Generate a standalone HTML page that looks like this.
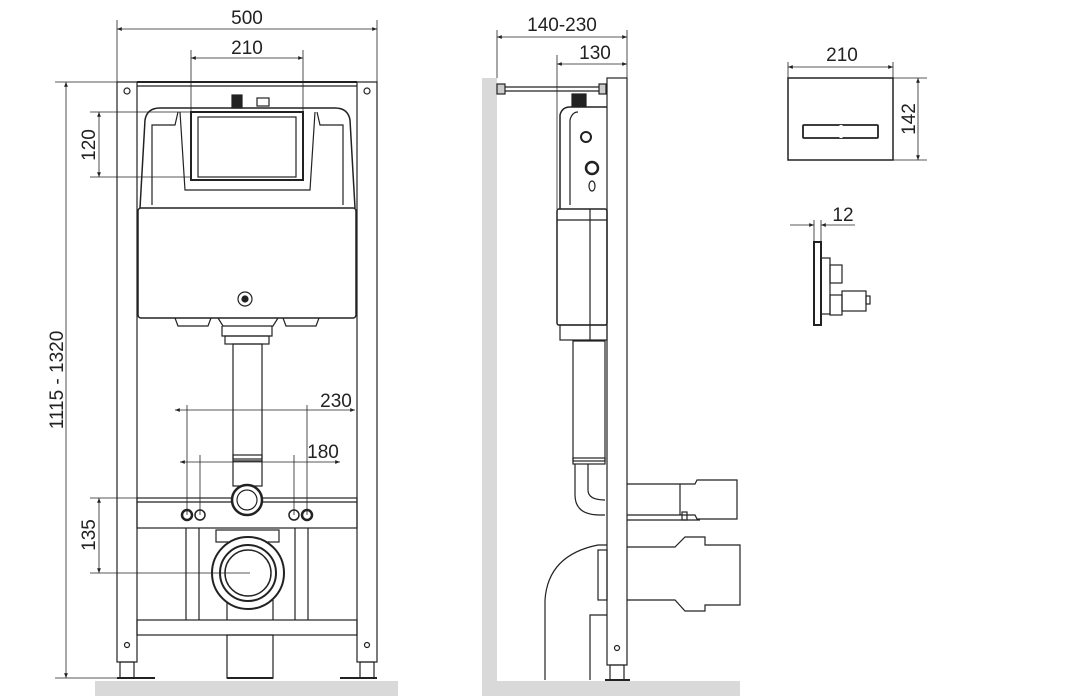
<!DOCTYPE html>
<html><head><meta charset="utf-8"><style>
html,body{margin:0;padding:0;background:#fff;}
svg{display:block;font-family:"Liberation Sans",sans-serif;}
</style></head><body>
<svg width="1079" height="697" viewBox="0 0 1079 697" xmlns="http://www.w3.org/2000/svg">
<defs>
<marker id="a" viewBox="0 0 10 10" refX="10" refY="5" markerWidth="8" markerHeight="6" orient="auto-start-reverse"><path d="M0,1 L10,5 L0,9 z" fill="#222"/></marker>
</defs>
<g fill="none" stroke="#222" stroke-width="1.2">
<rect x="95" y="681" width="303" height="15" fill="#d9d9d9" stroke="none"/>
<rect x="482" y="78" width="15" height="604" fill="#d9d9d9" stroke="none"/>
<rect x="482" y="681" width="258" height="15" fill="#d9d9d9" stroke="none"/>

<rect x="117" y="82" width="20" height="580"/>
<rect x="357" y="82" width="20" height="580"/>
<line x1="137" y1="82" x2="357" y2="82" stroke-width="2"/>
<line x1="137" y1="86" x2="357" y2="86"/>
<circle cx="127" cy="91" r="3"/><circle cx="367" cy="91" r="3"/>
<circle cx="127" cy="645" r="2.5"/><circle cx="367" cy="645" r="2.5"/>
<rect x="120" y="662" width="14" height="16"/><rect x="360" y="662" width="14" height="16"/>
<line x1="117" y1="678" x2="155" y2="678" stroke-width="2"/><line x1="340" y1="678" x2="377" y2="678" stroke-width="2"/>
<path d="M140,208 L145,120 Q147,108 160,108 L335,108 Q348,108 350,120 L355,208" stroke-width="1.5"/>
<path d="M152,205 L152,125 L175,125 L178,112 M343,205 L343,125 L320,125 L317,112"/>
<path d="M180,112 L185,190 L310,190 L315,112"/>
<rect x="191" y="112" width="112" height="68" stroke-width="2"/>
<rect x="198" y="117" width="98" height="60"/>
<rect x="232" y="95" width="10" height="13" fill="#222"/>
<rect x="257" y="98" width="12" height="8"/>
<rect x="138" y="208" width="218" height="110" rx="3" stroke-width="1.5"/>
<circle cx="245" cy="299" r="7"/><circle cx="245" cy="299" r="3" fill="#222"/>
<path d="M175,318 l3,8 h30 l3,-8 M283,318 l3,8 h30 l3,-8 M218,318 l5,8 h50 l5,-8 M222,326 v10 h50 v-10"/>
<rect x="225" y="336" width="44" height="8"/>
<rect x="233" y="344" width="29" height="115"/>
<rect x="233" y="455" width="29" height="6"/>
<rect x="233" y="461" width="29" height="25"/>
<rect x="137" y="498" width="220" height="30"/>
<line x1="137" y1="502" x2="357" y2="502"/>
<circle cx="247" cy="500" r="15" stroke-width="2.5" fill="#fff"/>
<circle cx="247" cy="500" r="10"/>
<circle cx="187" cy="515" r="5" stroke-width="2.5"/><circle cx="200" cy="515" r="5" stroke-width="1.5"/>
<circle cx="294" cy="515" r="5" stroke-width="1.5"/><circle cx="307" cy="515" r="5" stroke-width="2.5"/>
<line x1="186" y1="528" x2="186" y2="620"/><line x1="199" y1="528" x2="199" y2="620"/>
<line x1="295" y1="528" x2="295" y2="620"/><line x1="308" y1="528" x2="308" y2="620"/>
<rect x="216" y="530" width="63" height="12"/>
<line x1="227" y1="600" x2="227" y2="620"/><line x1="273" y1="600" x2="273" y2="620"/>
<circle cx="248" cy="573" r="36" stroke-width="2" fill="#fff"/>
<circle cx="248" cy="573" r="28" stroke-width="2"/>
<circle cx="248" cy="573" r="23" stroke-width="1.5"/>
<rect x="137" y="620" width="220" height="15"/>
<rect x="227" y="635" width="46" height="43"/>
<line x1="227" y1="678" x2="273" y2="678" stroke-width="2"/>

<g stroke-width="0.8">
<line x1="117" y1="20" x2="117" y2="82"/><line x1="377" y1="20" x2="377" y2="82"/>
<line x1="117" y1="29" x2="377" y2="29" marker-start="url(#a)" marker-end="url(#a)"/>
<line x1="191" y1="50" x2="191" y2="112"/><line x1="303" y1="50" x2="303" y2="112"/>
<line x1="191" y1="58" x2="303" y2="58" marker-start="url(#a)" marker-end="url(#a)"/>
<line x1="90" y1="112" x2="191" y2="112"/><line x1="90" y1="177" x2="191" y2="177"/>
<line x1="99" y1="112" x2="99" y2="177" marker-start="url(#a)" marker-end="url(#a)"/>
<line x1="55" y1="82" x2="117" y2="82"/><line x1="55" y1="678" x2="117" y2="678"/>
<line x1="66" y1="82" x2="66" y2="678" marker-start="url(#a)" marker-end="url(#a)"/>
<line x1="175" y1="410" x2="355" y2="410" marker-start="url(#a)" marker-end="url(#a)"/>
<line x1="187" y1="405" x2="187" y2="515"/><line x1="307" y1="405" x2="307" y2="515"/>
<line x1="180" y1="462" x2="340" y2="462" marker-start="url(#a)" marker-end="url(#a)"/>
<line x1="200" y1="455" x2="200" y2="515"/><line x1="294" y1="455" x2="294" y2="515"/>
<line x1="90" y1="498" x2="137" y2="498"/><line x1="90" y1="573" x2="250" y2="573"/>
<line x1="99" y1="498" x2="99" y2="573" marker-start="url(#a)" marker-end="url(#a)"/>
</g>

<rect x="607" y="78" width="20" height="587"/>
<rect x="610" y="665" width="14" height="15"/>
<line x1="605" y1="680" x2="630" y2="680" stroke-width="2"/>
<circle cx="617" cy="648" r="2.5"/>
<line x1="500" y1="87" x2="605" y2="87"/><line x1="500" y1="91" x2="605" y2="91"/>
<rect x="497" y="84" width="8" height="10" fill="#ccc"/><rect x="599" y="84" width="7" height="10" fill="#ccc"/>
<rect x="572" y="94" width="14" height="12" fill="#222"/>
<path d="M560,209 L560,115 Q562,107 570,107 L607,107" stroke-width="1.5"/>
<path d="M570,205 L570,120 Q572,112 578,112"/>
<circle cx="586" cy="137" r="5" stroke-width="2"/><circle cx="592" cy="168" r="6" stroke-width="2.5"/><ellipse cx="592" cy="186" rx="3" ry="5"/>
<rect x="557" y="209" width="50" height="116" rx="2" stroke-width="1.5"/>
<line x1="590" y1="209" x2="590" y2="340"/><line x1="557" y1="220" x2="607" y2="220"/>
<rect x="560" y="325" width="47" height="15"/>
<rect x="573" y="341" width="32" height="120"/>
<rect x="573" y="458" width="32" height="6"/>
<path d="M575,464 L575,495 Q575,515 600,515 L605,515 M588,464 L588,490 Q588,500 605,500"/>
<path d="M627,484 L695,484 L697,480 L737,480 L737,519 L697,519 L695,515 L627,515"/>
<line x1="680" y1="484" x2="680" y2="515"/>
<rect x="682" y="512" width="5" height="8"/><line x1="627" y1="520" x2="700" y2="520"/>
<path d="M627,547 L675,547 L685,537 L705,537 L705,545 L740,545 L740,605 L705,605 L705,611 L685,611 L675,600 L627,600"/>
<path d="M545,680 L545,600 Q548,555 598,545 L607,545"/>
<path d="M590,680 L590,615 L607,615"/>
<rect x="598" y="550" width="9" height="50"/>

<g stroke-width="0.8">
<line x1="497" y1="30" x2="497" y2="78"/><line x1="627" y1="30" x2="627" y2="78"/>
<line x1="497" y1="37" x2="627" y2="37" marker-start="url(#a)" marker-end="url(#a)"/>
<line x1="557" y1="55" x2="557" y2="209"/>
<line x1="557" y1="64" x2="627" y2="64" marker-start="url(#a)" marker-end="url(#a)"/>
</g>

<rect x="788" y="78" width="105" height="82" stroke-width="1.5"/>
<rect x="803" y="125" width="75" height="13" rx="1" stroke-width="1.8"/>
<line x1="841" y1="125" x2="841" y2="138" stroke="#fff" stroke-width="3"/>
<g stroke-width="0.8">
<line x1="788" y1="62" x2="788" y2="78"/><line x1="893" y1="62" x2="893" y2="78"/>
<line x1="788" y1="67" x2="893" y2="67" marker-start="url(#a)" marker-end="url(#a)"/>
<line x1="893" y1="78" x2="927" y2="78"/><line x1="893" y1="160" x2="927" y2="160"/>
<line x1="918" y1="78" x2="918" y2="160" marker-start="url(#a)" marker-end="url(#a)"/>
<line x1="790" y1="225" x2="814" y2="225" marker-end="url(#a)"/>
<line x1="855" y1="225" x2="821" y2="225" marker-end="url(#a)"/>
<line x1="814" y1="220" x2="814" y2="242"/><line x1="821" y1="220" x2="821" y2="242"/>
</g>
<rect x="814" y="242" width="7" height="83" stroke-width="2"/>
<rect x="821" y="258" width="9" height="56"/>
<rect x="830" y="265" width="12" height="18"/>
<rect x="830" y="295" width="12" height="20"/>
<rect x="842" y="291" width="24" height="20"/>
<rect x="866" y="296" width="4" height="8"/>
</g>

<g fill="#222" font-size="19">
<text x="247" y="24" text-anchor="middle">500</text>
<text x="247" y="54" text-anchor="middle">210</text>
<text x="336" y="407" text-anchor="middle">230</text>
<text x="323" y="458" text-anchor="middle">180</text>
<text transform="translate(95,145) rotate(-90)" text-anchor="middle">120</text>
<text transform="translate(63,380) rotate(-90)" text-anchor="middle">1115 - 1320</text>
<text transform="translate(95,535) rotate(-90)" text-anchor="middle">135</text>
<text x="562" y="31" text-anchor="middle">140-230</text>
<text x="595" y="59" text-anchor="middle">130</text>
<text x="842" y="61" text-anchor="middle">210</text>
<text transform="translate(915,119) rotate(-90)" text-anchor="middle">142</text>
<text x="843" y="221" text-anchor="middle">12</text>
</g>
</svg>
</body></html>
